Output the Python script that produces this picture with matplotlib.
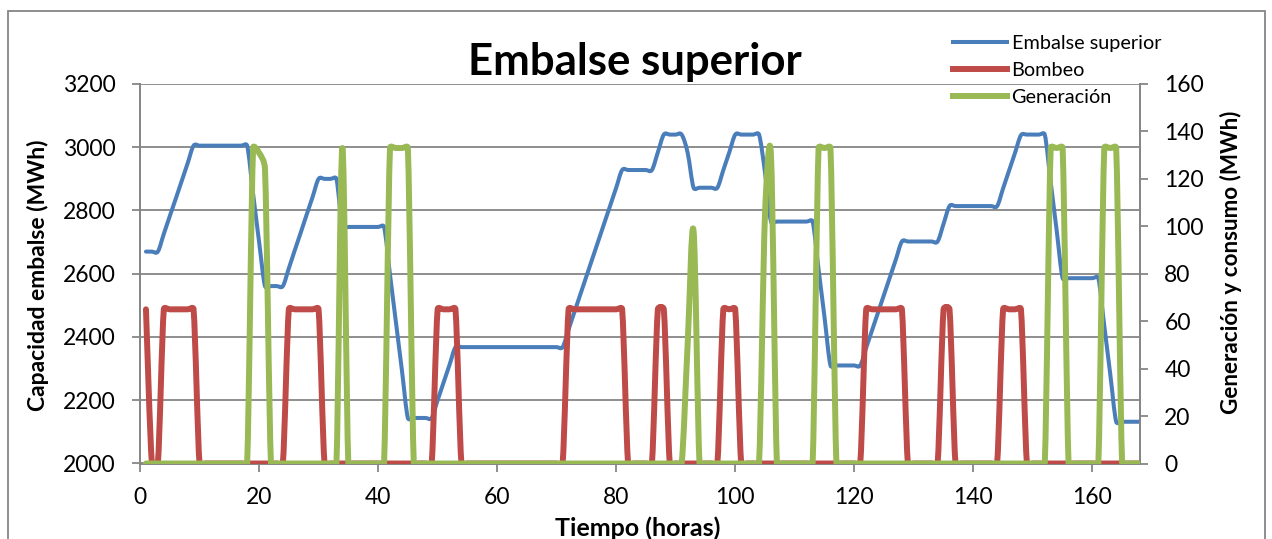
import numpy as np
import matplotlib
matplotlib.use("Agg")
import matplotlib.pyplot as plt
from matplotlib.path import Path
from matplotlib.patches import PathPatch, Rectangle
from matplotlib.lines import Line2D

plt.rcParams['font.family'] = ['Lato', 'DejaVu Sans']

# ---- data: one value per hour of the week ----
hours = np.arange(1, 169)

embalse = ([2670] * 3
           + [2726, 2782, 2837, 2893, 2949, 3005]
           + [3005] * 9
           + [2853, 2702, 2561]
           + [2561] * 3
           + [2617, 2674, 2730, 2787, 2843, 2900]
           + [2900] * 3
           + [2748]
           + [2748] * 7
           + [2597, 2446, 2295, 2144]
           + [2144] * 4
           + [2200, 2256, 2312, 2368]
           + [2368] * 18
           + [2424, 2480, 2536, 2592, 2648, 2704, 2760, 2816, 2872, 2928]
           + [2928] * 5
           + [2984, 3040]
           + [3040] * 3
           + [2983, 2872]
           + [2872] * 4
           + [2928, 2984, 3040]
           + [3040] * 4
           + [2920, 2765]
           + [2765] * 7
           + [2614, 2462, 2310]
           + [2310] * 5
           + [2366, 2422, 2478, 2534, 2590, 2646, 2702]
           + [2702] * 6
           + [2758, 2814]
           + [2814] * 8
           + [2870, 2926, 2982, 3038]
           + [3040] * 4
           + [2889, 2737, 2586]
           + [2586] * 6
           + [2435, 2283, 2132]
           + [2132] * 4)

bombeo = ([65] + [0] * 2 + [65] * 6 + [0] * 15 + [65] * 6 + [0] * 19
          + [65] * 4 + [0] * 18 + [65] * 10 + [0] * 5 + [65] * 2 + [0] * 9
          + [65] * 3 + [0] * 21 + [65] * 7 + [0] * 6 + [65] * 2 + [0] * 8
          + [65] * 4 + [0] * 20)

generacion = [0] * 168
for h, v in {19: 133, 20: 131, 21: 124, 34: 133,
             42: 133, 43: 133, 44: 133, 45: 133,
             92: 50, 93: 98, 105: 105, 106: 130,
             114: 133, 115: 133, 116: 133,
             153: 133, 154: 133, 155: 133,
             162: 133, 163: 133, 164: 133}.items():
    generacion[h - 1] = v

x_ticks = list(range(0, 161, 20))
left_ticks = list(range(2000, 3201, 200))
right_ticks = list(range(0, 161, 20))

C_BLUE = '#4A7EBB'
C_RED = '#BE4B48'
C_GREEN = '#98B954'
C_GRAY = '#868686'


def smooth_path(axis, x, y, k=0.55):
    """Smoothed cubic Bezier path through the points.

    Tangents follow the Catmull-Rom rule, computed in display space, and
    each control arm is capped relative to its own segment length so that
    flat runs next to steep steps only get a slight rounding.
    """
    to_px = axis.transData
    p = to_px.transform(np.column_stack([x, y]).astype(float))
    pp = np.vstack([p[0], p, p[-1]])
    tang = (pp[2:] - pp[:-2]) / 6.0
    verts = [p[0]]
    codes = [Path.MOVETO]
    for i in range(len(p) - 1):
        seg = np.hypot(*(p[i + 1] - p[i]))
        t1, t2 = tang[i], tang[i + 1]
        n1, n2 = np.hypot(*t1), np.hypot(*t2)
        if n1 > k * seg and n1 > 0:
            t1 = t1 * (k * seg / n1)
        if n2 > k * seg and n2 > 0:
            t2 = t2 * (k * seg / n2)
        verts += [p[i] + t1, p[i + 1] - t2, p[i + 1]]
        codes += [Path.CURVE4] * 3
    verts = to_px.inverted().transform(np.array(verts))
    return Path(verts, codes)


W, H = 1272, 539
fig = plt.figure(figsize=(W / 100, H / 100), dpi=100)
ax = fig.add_axes([140 / W, 1 - 463.5 / H, 1000 / W, 379.5 / H])
ax2 = ax.twinx()

ax.set_xlim(0, 168)
ax.set_ylim(2000, 3200)
ax2.set_ylim(0, 160)
ax.set_xticks(x_ticks)
ax.set_yticks(left_ticks)
ax2.set_yticks(right_ticks)

lw_blue, lw_other = 2.9, 4.3
ax.add_patch(PathPatch(smooth_path(ax, hours, embalse), fill=False, edgecolor=C_BLUE,
                       lw=lw_blue, joinstyle='round', capstyle='round', zorder=3))
ax2.add_patch(PathPatch(smooth_path(ax2, hours, bombeo), fill=False, edgecolor=C_RED,
                        lw=lw_other, joinstyle='round', capstyle='round', zorder=3))
ax2.add_patch(PathPatch(smooth_path(ax2, hours, generacion), fill=False, edgecolor=C_GREEN,
                        lw=lw_other, joinstyle='round', capstyle='round', zorder=4))

ax.yaxis.grid(True, color=C_GRAY, lw=1.3)
ax.set_axisbelow(True)

for a in (ax, ax2):
    for s in a.spines.values():
        s.set_color(C_GRAY)
        s.set_linewidth(1.3)
    a.spines['top'].set_visible(False)
    a.tick_params(colors=C_GRAY, labelcolor='black', labelsize=16.5,
                  length=5.5, width=1.3, direction='out')
ax.tick_params(axis='y', pad=12)
ax2.tick_params(axis='y', pad=12)
ax.tick_params(axis='x', pad=11.5)

# titles and axis labels
fig.text(635 / W, 1 - 75 / H, 'Embalse superior', ha='center', va='baseline',
         fontsize=31.5, fontweight='bold')
fig.text(638 / W, 1 - 536 / H, 'Tiempo (horas)', ha='center', va='baseline',
         fontsize=18, fontweight='bold')
fig.text(38 / W, 1 - 275 / H, 'Capacidad embalse (MWh)', ha='center', va='center',
         rotation=90, fontsize=16.5, fontweight='bold')
fig.text(1231 / W, 1 - 262 / H, 'Generación y consumo (MWh)', ha='center', va='center',
         rotation=90, fontsize=16.2, fontweight='bold')

handles = [Line2D([], [], color=C_BLUE, lw=lw_blue),
           Line2D([], [], color=C_RED, lw=lw_other),
           Line2D([], [], color=C_GREEN, lw=lw_other)]
fig.legend(handles, ['Embalse superior', 'Bombeo', 'Generación'],
           loc='upper left', bbox_to_anchor=(953 / W, 1 - 35 / H),
           frameon=False, fontsize=14.3, handlelength=2.7, handletextpad=0.25,
           labelspacing=0.5, borderpad=0, borderaxespad=0)

# outer chart border
fig.patches.append(Rectangle((8 / W, -0.05), 1257 / W, 1.05 - 11 / H,
                             transform=fig.transFigure, fill=False,
                             edgecolor=C_GRAY, lw=1.3))

fig.savefig('out.png', dpi=100)
